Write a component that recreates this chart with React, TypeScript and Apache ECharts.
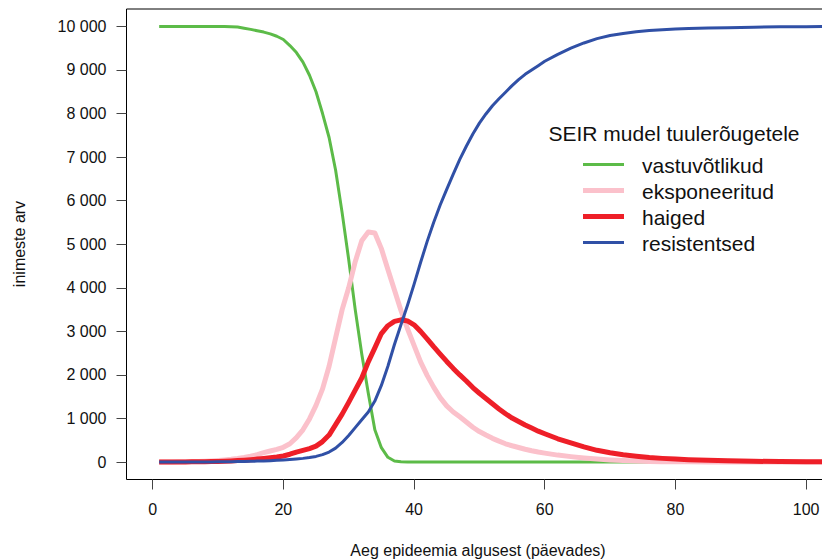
import React, { useEffect, useRef } from "react";
import * as echarts from "echarts";

const days = [
  1, 2, 3, 4, 5, 6, 7, 8, 9, 10,
  11, 12, 13, 14, 15, 16, 17, 18, 19, 20,
  21, 22, 23, 24, 25, 26, 27, 28, 29, 30,
  31, 32, 33, 34, 35, 36, 37, 38, 39, 40,
  41, 42, 43, 44, 45, 46, 47, 48, 49, 50,
  51, 52, 53, 54, 55, 56, 57, 58, 59, 60,
  62, 64, 66, 68, 70, 72, 74, 76, 78, 80,
  82, 85, 88, 92, 96, 100, 105, 110, 120, 128,
];

const susceptible = [
  10000, 10000, 10000, 10000, 10000, 10000, 10000, 10000, 10000, 10000,
  9998, 9993, 9985, 9960, 9932, 9900, 9870, 9830, 9775, 9700,
  9560, 9400, 9180, 8880, 8500, 8000, 7450, 6700, 5720, 4650,
  3500, 2480, 1580, 740, 330, 110, 25, 6, 2, 1,
  0, 0, 0, 0, 0, 0, 0, 0, 0, 0,
  0, 0, 0, 0, 0, 0, 0, 0, 0, 0,
  0, 0, 0, 0, 0, 0, 0, 0, 0, 0,
  0, 0, 0, 0, 0, 0, 0, 0, 0, 0,
];

const exposed = [
  0, 2, 4, 6, 8, 11, 15, 20, 27, 36,
  48, 63, 82, 105, 135, 170, 215, 255, 290, 340,
  420, 560, 740, 990, 1300, 1680, 2200, 2850, 3500, 4000,
  4600, 5080, 5280, 5260, 4900, 4420, 3950, 3480, 3060, 2680,
  2300, 1990, 1720, 1480, 1290, 1150, 1040, 920, 800, 700,
  620, 545, 480, 420, 375, 335, 295, 260, 230, 205,
  160, 125, 95, 70, 50, 35, 22, 15, 10, 7,
  5, 3, 2, 1, 1, 0, 0, 0, 0, 0,
];

const infected = [
  1, 1, 2, 3, 4, 5, 7, 9, 12, 16,
  21, 27, 35, 44, 55, 68, 82, 97, 115, 140,
  180, 230, 270, 310, 365, 470, 620, 860, 1100, 1370,
  1650, 1930, 2300, 2620, 2950, 3130, 3230, 3265, 3240, 3150,
  3000, 2830, 2650, 2480, 2310, 2150, 2000, 1860, 1710, 1580,
  1460, 1340, 1220, 1110, 1010, 930, 850, 780, 710, 650,
  535, 440, 350, 270, 215, 170, 135, 105, 85, 68,
  55, 40, 28, 18, 12, 8, 5, 3, 1, 1,
];

const recovered = [
  0, 0, 0, 1, 1, 2, 2, 3, 4, 5,
  7, 9, 11, 14, 18, 22, 27, 33, 40, 48,
  58, 70, 85, 105, 130, 170, 230, 320, 450, 610,
  790, 970, 1150, 1400, 1760, 2200, 2700, 3150, 3600, 4080,
  4580, 5060, 5500, 5900, 6260, 6610, 6950, 7250, 7530, 7780,
  7990, 8180, 8340, 8490, 8640, 8780, 8900, 9000, 9100, 9200,
  9360, 9500, 9620, 9720, 9790, 9840, 9880, 9905, 9925, 9940,
  9950, 9962, 9972, 9982, 9990, 9995, 9998, 10000, 10000, 10000,
];

const xTicks = [0, 20, 40, 60, 80, 100];
const yTicks = [0, 1000, 2000, 3000, 4000, 5000, 6000, 7000, 8000, 9000, 10000];

const seriesNames = ["vastuvõtlikud", "eksponeeritud", "haiged", "resistentsed"];
const seriesColors = ["#5cbb48", "#fbc1cb", "#ee1f28", "#3050a6"];
const seriesWidths = [3, 5, 5, 3];
const legendTitle = "SEIR mudel tuulerõugetele";
const xTitle = "Aeg epideemia algusest (päevades)";
const yTitle = "inimeste arv";

const FONT = "'Liberation Sans', Arial, Helvetica, sans-serif";
const TEXT = "#111111";

function fmt(v: number): string {
  return String(v).replace(/\B(?=(\d{3})+(?!\d))/g, " ");
}

export default function App() {
  const ref = useRef<HTMLDivElement>(null);

  useEffect(() => {
    if (!ref.current) return;
    const chart = echarts.init(ref.current, undefined, { renderer: "svg" });
    const allSeries = [susceptible, exposed, infected, recovered];

    const legendRowsY = [164.5, 190.5, 216.5, 242.5];

    const graphic: any[] = [
      {
        type: "text",
        x: 674,
        y: 133,
        style: {
          text: legendTitle,
          fontSize: 21,
          fontFamily: FONT,
          fill: TEXT,
          textAlign: "center",
          textVerticalAlign: "middle",
          align: "center",
          verticalAlign: "middle",
        },
      },
      {
        type: "text",
        x: 478,
        y: 550,
        style: {
          text: xTitle,
          fontSize: 16,
          fontFamily: FONT,
          fill: TEXT,
          textAlign: "center",
          textVerticalAlign: "middle",
          align: "center",
          verticalAlign: "middle",
        },
      },
      {
        type: "text",
        x: 19,
        y: 244,
        rotation: Math.PI / 2,
        style: {
          text: yTitle,
          fontSize: 16,
          fontFamily: FONT,
          fill: TEXT,
          textAlign: "center",
          textVerticalAlign: "middle",
          align: "center",
          verticalAlign: "middle",
        },
      },
    ];

    seriesNames.forEach((name, i) => {
      graphic.push({
        type: "line",
        shape: { x1: 583, y1: legendRowsY[i], x2: 624, y2: legendRowsY[i] },
        style: { stroke: seriesColors[i], lineWidth: seriesWidths[i] },
      });
      graphic.push({
        type: "text",
        x: 642,
        y: legendRowsY[i] + 1,
        style: {
          text: name,
          fontSize: 21,
          fontFamily: FONT,
          fill: TEXT,
          textAlign: "left",
          textVerticalAlign: "middle",
          align: "left",
          verticalAlign: "middle",
        },
      });
    });

    chart.setOption({
      animation: false,
      backgroundColor: "#ffffff",
      grid: {
        left: 126.5,
        top: 9,
        width: 895.3,
        height: 470.5,
        show: true,
        borderColor: "#000000",
        borderWidth: 1,
        backgroundColor: "transparent",
        containLabel: false,
        outerBoundsMode: "none",
      },
      xAxis: {
        type: "value",
        min: -4,
        max: 133,
        splitLine: { show: false },
        axisLine: { show: false, onZero: false },
        axisTick: {
          show: true,
          length: 10,
          lineStyle: { color: "#444444", width: 1 },
          customValues: xTicks,
        },
        axisLabel: {
          customValues: xTicks,
          margin: 22,
          fontSize: 16,
          color: TEXT,
          fontFamily: FONT,
          formatter: (v: number) => fmt(v),
        },
      },
      yAxis: {
        type: "value",
        min: -400,
        max: 10400,
        splitLine: { show: false },
        axisLine: { show: false, onZero: false },
        axisTick: {
          show: true,
          length: 10,
          lineStyle: { color: "#444444", width: 1 },
          customValues: yTicks,
        },
        axisLabel: {
          customValues: yTicks,
          margin: 20,
          fontSize: 16,
          color: TEXT,
          fontFamily: FONT,
          formatter: (v: number) => fmt(v),
        },
      },
      series: seriesNames.map((name, i) => ({
        type: "line",
        name,
        data: days.map((d, k) => [d, allSeries[i][k]]),
        showSymbol: false,
        symbol: "none",
        clip: true,
        z: 2 + i,
        lineStyle: { color: seriesColors[i], width: seriesWidths[i], join: "round" },
        itemStyle: { color: seriesColors[i] },
      })),
      graphic,
    });

    return () => chart.dispose();
  }, []);

  return (
    <div
      style={{
        position: "fixed",
        left: 0,
        top: 0,
        width: 822,
        height: 560,
        overflow: "hidden",
        background: "#fff",
      }}
    >
      <div ref={ref} style={{ width: 1040, height: 560 }} />
    </div>
  );
}
